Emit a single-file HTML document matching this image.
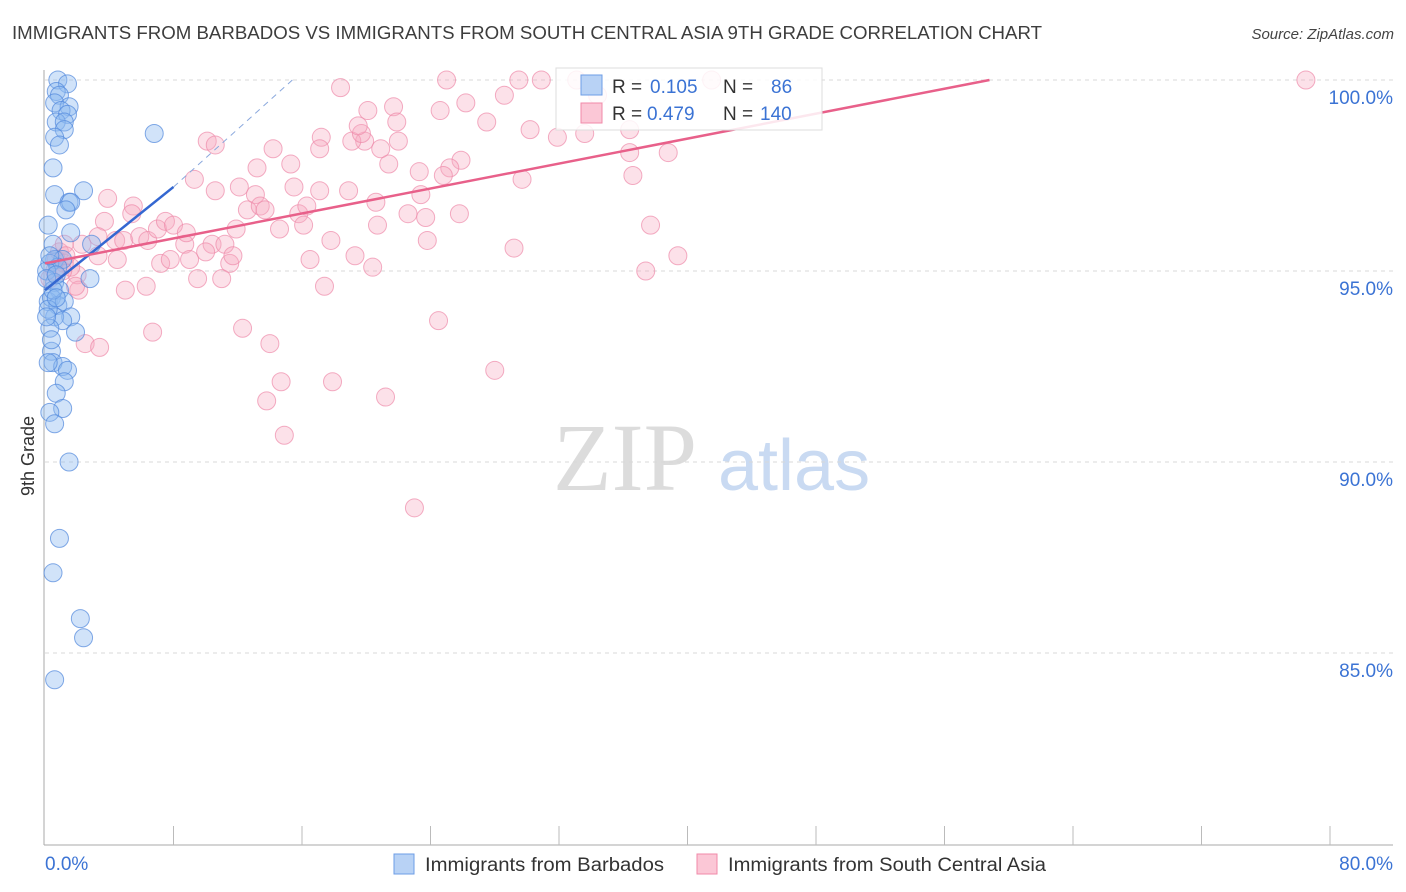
<!DOCTYPE html>
<html><head><meta charset="utf-8"><style>
body{margin:0;background:#fff;font-family:"Liberation Sans",sans-serif}
svg{display:block}
</style></head><body>
<svg id="chart" width="1406" height="892" xmlns="http://www.w3.org/2000/svg">
<text x="12" y="39" font-size="18" fill="#3d3d3d" textLength="1030" lengthAdjust="spacingAndGlyphs">IMMIGRANTS FROM BARBADOS VS IMMIGRANTS FROM SOUTH CENTRAL ASIA 9TH GRADE CORRELATION CHART</text>
<text x="1394" y="39" font-size="15" font-style="italic" fill="#444" text-anchor="end">Source: ZipAtlas.com</text>
<text x="553" y="490" font-size="96" fill="#dcdcdc" font-family="Liberation Serif,serif">ZIP</text>
<text x="718" y="490" font-size="72" fill="#c9daf2">atlas</text>
<text transform="translate(34,456) rotate(-90)" font-size="18" fill="#333" text-anchor="middle">9th Grade</text>
<g id="grid"></g><g id="axes"></g><g id="marks"></g>
<g>
<rect x="556" y="68" width="266" height="62" fill="#fff" fill-opacity="0.85" stroke="#ddd"/>
<rect x="581" y="75" width="21" height="20" fill="#b8d2f5" stroke="#6d9de6"/>
<rect x="581" y="103" width="21" height="20" fill="#fbc7d6" stroke="#f08aa8"/>
<text x="612" y="93" font-size="19" fill="#333">R = <tspan fill="#3b73d4" x="650">0.105</tspan></text>
<text x="723" y="93" font-size="19" fill="#333">N = <tspan fill="#3b73d4" x="771">86</tspan></text>
<text x="612" y="120" font-size="19" fill="#333">R = <tspan fill="#3b73d4" x="647">0.479</tspan></text>
<text x="723" y="120" font-size="19" fill="#333">N = <tspan fill="#3b73d4" x="760">140</tspan></text>
</g>
<g>
<rect x="394" y="854" width="20" height="20" fill="#b8d2f5" stroke="#6d9de6"/>
<text x="425" y="871" font-size="19" fill="#333" textLength="239" lengthAdjust="spacingAndGlyphs">Immigrants from Barbados</text>
<rect x="697" y="854" width="20" height="20" fill="#fbc7d6" stroke="#f08aa8"/>
<text x="728" y="871" font-size="19" fill="#333" textLength="318" lengthAdjust="spacingAndGlyphs">Immigrants from South Central Asia</text>
</g>
</svg>
<script>
const yTicks=[100,95,90,85];
const xTickLabels=["0.0%","80.0%"];
const blueX=[0.8,1.4,0.7,0.9,0.6,1.5,1.0,1.4,0.7,1.2,1.2,0.6,0.9,6.8,0.5,0.6,2.4,1.5,1.6,1.3,0.2,1.6,0.5,2.9,0.6,1.1,0.3,0.8,0.1,2.8,0.6,0.9,0.2,0.4,0.8,1.2,1.6,0.6,1.1,0.2,0.5,1.9,0.3,0.4,0.5,1.1,1.4,1.2,0.7,1.1,0.3,0.6,1.5,0.9,0.5,2.2,2.4,0.6,0.1,0.3,0.7,0.1,0.4,0.7,0.2];
const blueY=[100.0,99.9,99.7,99.6,99.4,99.3,99.2,99.1,98.9,98.9,98.7,98.5,98.3,98.6,97.7,97.0,97.1,96.8,96.8,96.6,96.2,96.0,95.7,95.7,95.3,95.3,95.2,95.1,95.0,94.8,94.7,94.5,94.2,94.3,94.1,94.2,93.8,93.8,93.7,94.0,94.5,93.4,93.5,92.9,92.6,92.5,92.4,92.1,91.8,91.4,91.3,91.0,90.0,88.0,87.1,85.9,85.4,84.3,94.8,95.4,94.3,93.8,93.2,94.9,92.6];
const pinkX=[18.4,25.0,29.5,30.9,33.1,78.5,41.5,20.1,21.7,24.6,26.2,28.6,34.4,27.5,30.2,31.9,33.6,36.4,38.8,36.4,25.9,25.2,21.4,19.9,19.1,19.7,22.0,20.9,21.9,19.5,17.2,17.1,14.2,15.3,13.2,10.1,10.6,9.3,10.6,12.1,13.1,15.5,17.1,18.9,20.6,23.4,23.3,24.8,29.7,36.6,3.9,5.5,5.4,3.7,3.3,2.3,4.4,4.9,5.9,6.4,7.0,7.5,8.0,8.7,8.8,10.4,11.2,11.9,12.6,13.4,13.7,14.6,15.8,16.3,16.1,17.8,20.7,22.6,23.7,25.8,29.2,37.7,39.4,37.4,10.0,7.2,7.8,9.0,11.5,11.7,4.5,3.3,2.0,2.1,5.0,6.3,9.5,11.0,16.5,17.4,19.3,20.4,23.8,12.3,14.0,6.7,2.5,3.4,14.7,17.9,13.8,21.2,14.9,24.5,28.0,23.0,0.9,1.2,0.6,1.6,0.3,1.1,1.9,0.7,1.2,1.3];
const pinkY=[99.8,100.0,100.0,100.0,100.0,100.0,100.0,99.2,99.3,99.2,99.4,99.6,99.6,98.9,98.7,98.5,98.6,98.7,98.1,98.1,97.9,97.7,97.8,98.4,98.4,98.6,98.4,98.2,98.9,98.8,98.5,98.2,98.2,97.8,97.7,98.4,98.3,97.4,97.1,97.2,97.0,97.2,97.1,97.1,96.8,97.0,97.6,97.5,97.4,97.5,96.9,96.7,96.5,96.3,95.9,95.7,95.8,95.8,95.9,95.8,96.1,96.3,96.2,95.7,96.0,95.7,95.7,96.1,96.6,96.7,96.6,96.1,96.5,96.7,96.2,95.8,96.2,96.5,96.4,96.5,95.6,96.2,95.4,95.0,95.5,95.2,95.3,95.3,95.2,95.4,95.3,95.4,94.9,94.5,94.5,94.6,94.8,94.8,95.3,94.6,95.4,95.1,95.8,93.5,93.1,93.4,93.1,93.0,92.1,92.1,91.6,91.7,90.7,93.7,92.4,88.8,95.5,95.2,95.0,95.1,94.8,95.0,94.6,95.3,95.7,95.4];
const blueTrend=[[0,94.5],[8,97.2]];
const blueTrendDash=[[8,97.2],[15.4,100]];
const pinkTrend=[[0,95.2],[58.8,100]];
const NS="http://www.w3.org/2000/svg";
const X=v=>45+v*(1285/80);
const Y=v=>80+(100-v)*38.2;
function mk(tag,attrs,parent){const e=document.createElementNS(NS,tag);for(const k in attrs)e.setAttribute(k,attrs[k]);document.getElementById(parent).appendChild(e);return e;}
yTicks.forEach(t=>{
 const l=mk('line',{x1:45,x2:1393,y1:Y(t),y2:Y(t),stroke:'#d8d8d8','stroke-dasharray':'4,4'},'grid');
 
 
 const tx=mk('text',{x:1393,y:Y(t)+24,'font-size':19,fill:'#3b73d4','text-anchor':'end'},'grid');
 tx.textContent=t.toFixed(1)+'%';
 
 
});
const ax=mk('line',{x1:44,x2:44,y1:70,y2:845,stroke:'#aaa'},'axes');


const bx=mk('line',{x1:44,x2:1393,y1:845,y2:845,stroke:'#aaa'},'axes');


for(let i=1;i<=10;i++){const t=mk('line',{x1:X(i*8),x2:X(i*8),y1:826,y2:845,stroke:'#bbb'},'axes');
 
 }
[[0,'start',45],[80,'end',1393]].forEach((d,i)=>{const t=mk('text',{x:d[2],y:870,'font-size':19,fill:'#3b73d4','text-anchor':d[1]},'axes');t.textContent=xTickLabels[i];
 
 });
pinkX.forEach((x,i)=>{const c=mk('circle',{cx:X(x),cy:Y(pinkY[i]),r:9,fill:'#f7a8c0','fill-opacity':0.35,stroke:'#ee8aaa','stroke-opacity':0.7},'marks');
 
 });
blueX.forEach((x,i)=>{const c=mk('circle',{cx:X(x),cy:Y(blueY[i]),r:9,fill:'#8db8ef','fill-opacity':0.4,stroke:'#4f86dc','stroke-opacity':0.7},'marks');
 
 });
const bt=mk('line',{x1:X(blueTrend[0][0]),y1:Y(blueTrend[0][1]),x2:X(blueTrend[1][0]),y2:Y(blueTrend[1][1]),stroke:'#3467d1','stroke-width':2.5},'marks');


const bd=mk('line',{x1:X(blueTrendDash[0][0]),y1:Y(blueTrendDash[0][1]),x2:X(blueTrendDash[1][0]),y2:Y(blueTrendDash[1][1]),stroke:'#8aa8dd','stroke-width':1,'stroke-dasharray':'6,5'},'marks');


const pt=mk('line',{x1:X(pinkTrend[0][0]),y1:Y(pinkTrend[0][1]),x2:X(pinkTrend[1][0]),y2:Y(pinkTrend[1][1]),stroke:'#e8608a','stroke-width':2.5},'marks');


</script>
</body></html>
